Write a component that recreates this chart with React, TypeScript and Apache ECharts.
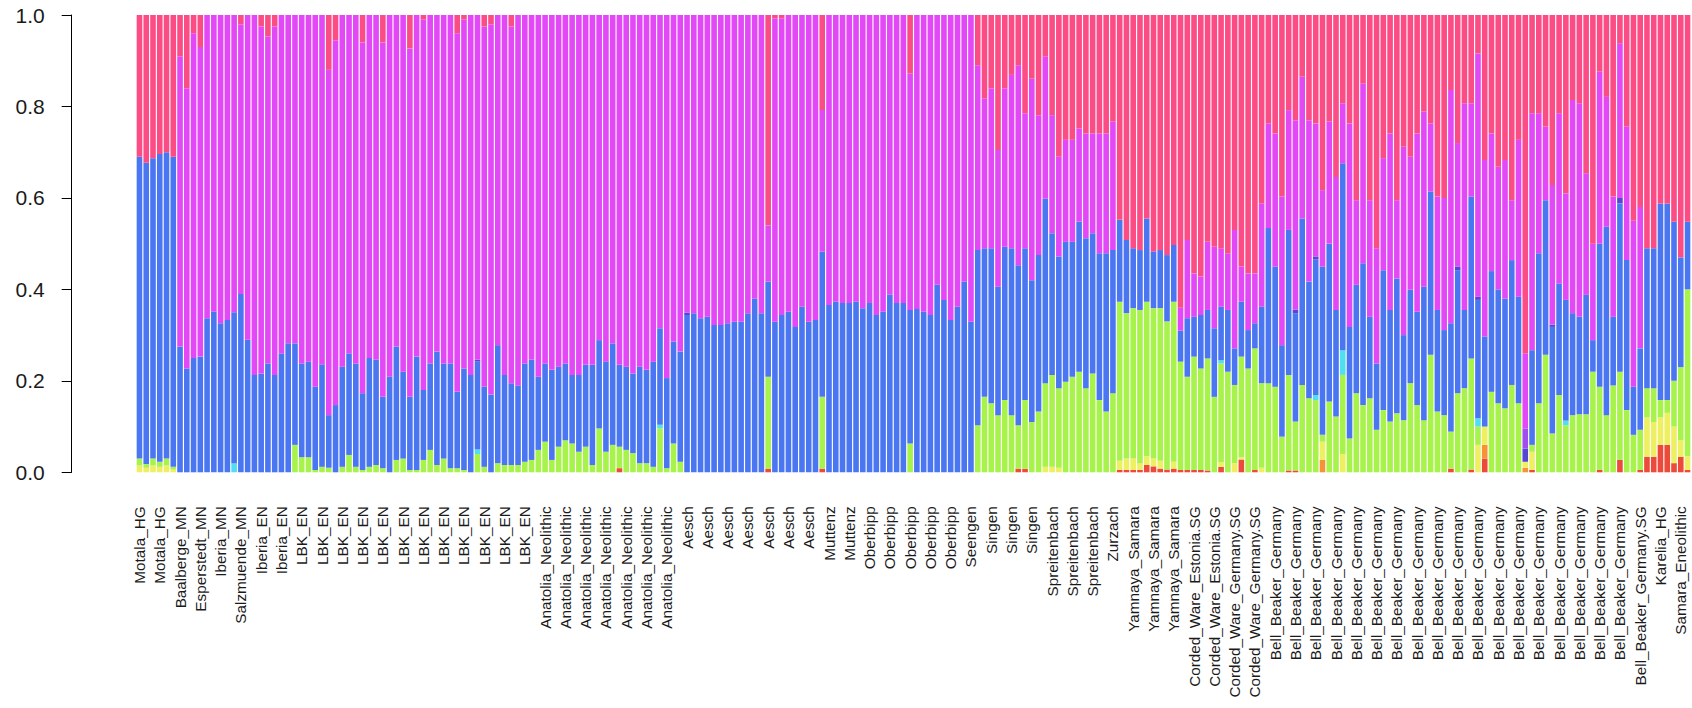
import React, { useEffect, useRef } from "react";
import * as echarts from "echarts";

// Populations (name, number of individuals) in plotting order
const groups: [string, number][] = [
  ["Motala_HG", 6], ["Baalberge_MN", 3], ["Esperstedt_MN", 3], ["Iberia_MN", 3],
  ["Salzmuende_MN", 3], ["Iberia_EN", 6], ["LBK_EN", 36], ["Anatolia_Neolithic", 21],
  ["Aesch", 21], ["Muttenz", 6], ["Oberbipp", 15], ["Seengen", 3], ["Singen", 9],
  ["Spreitenbach", 9], ["Zurzach", 3], ["Yamnaya_Samara", 9], ["Corded_Ware_Estonia.SG", 6],
  ["Corded_Ware_Germany.SG", 6], ["Bell_Beaker_Germany", 54], ["Bell_Beaker_Germany.SG", 3],
  ["Karelia_HG", 3], ["Samara_Eneolithic", 2],
];

// Cumulative ancestry (top of the lime, blue and magenta layers)
const limeTop = [
  0.03, 0.018, 0.03, 0.023, 0.03, 0.012, 0, 0, 0, 0,
  0, 0, 0, 0, 0, 0, 0, 0, 0, 0,
  0, 0, 0, 0.06, 0.033, 0.033, 0.005, 0.012, 0.01, 0,
  0.012, 0.038, 0.012, 0.005, 0.012, 0.016, 0.009, 0, 0.027, 0.03,
  0.005, 0.005, 0.027, 0.049, 0.016, 0.03, 0.009, 0.009, 0.005, 0,
  0.04, 0.012, 0, 0.02, 0.016, 0.016, 0.016, 0.023, 0.027, 0.049,
  0.067, 0.027, 0.056, 0.07, 0.063, 0.045, 0.056, 0.016, 0.096, 0.045,
  0.06, 0.056, 0.049, 0.042, 0.02, 0.02, 0.012, 0.096, 0.009, 0.063,
  0.023, 0, 0, 0, 0, 0, 0, 0, 0, 0,
  0, 0, 0, 0.209, 0, 0, 0, 0, 0, 0,
  0, 0.165, 0, 0, 0, 0, 0, 0, 0, 0,
  0, 0, 0, 0, 0.063, 0, 0, 0, 0, 0,
  0, 0, 0, 0, 0.103, 0.165, 0.151, 0.125, 0.158, 0.125,
  0.103, 0.158, 0.11, 0.133, 0.195, 0.213, 0.184, 0.198, 0.209, 0.22,
  0.184, 0.216, 0.158, 0.133, 0.173, 0.373, 0.348, 0.359, 0.355, 0.373,
  0.359, 0.359, 0.33, 0.373, 0.242, 0.209, 0.253, 0.227, 0.249, 0.165,
  0.238, 0.22, 0.191, 0.253, 0.227, 0.271, 0.195, 0.195, 0.187, 0.078,
  0.213, 0.111, 0.191, 0.162, 0.158, 0.082, 0.155, 0.122, 0.213, 0.074,
  0.173, 0.147, 0.162, 0.093, 0.136, 0.111, 0.129, 0.114, 0.195, 0.147,
  0.114, 0.257, 0.133, 0.125, 0.089, 0.173, 0.184, 0.249, 0.1, 0.1,
  0.176, 0.151, 0.14, 0.191, 0.151, 0.023, 0.06, 0.151, 0.257, 0.085,
  0.169, 0.103, 0.125, 0.127, 0.127, 0.22, 0.187, 0.125, 0.19, 0.22,
  0.136, 0.082, 0.093, 0.184, 0.184, 0.158, 0.158, 0.2, 0.23, 0.4,
];

const blueTop = [
  0.69, 0.677, 0.687, 0.696, 0.7, 0.69, 0.275, 0.227, 0.25, 0.253,
  0.337, 0.351, 0.326, 0.333, 0.35, 0.39, 0.29, 0.213, 0.216, 0.238,
  0.213, 0.26, 0.282, 0.282, 0.238, 0.242, 0.187, 0.236, 0.125, 0.147,
  0.231, 0.26, 0.238, 0.173, 0.25, 0.246, 0.165, 0.209, 0.275, 0.22,
  0.165, 0.253, 0.18, 0.238, 0.264, 0.238, 0.238, 0.176, 0.227, 0.213,
  0.242, 0.187, 0.17, 0.278, 0.213, 0.195, 0.19, 0.238, 0.246, 0.209,
  0.238, 0.224, 0.231, 0.238, 0.213, 0.213, 0.235, 0.235, 0.289, 0.242,
  0.282, 0.235, 0.231, 0.216, 0.231, 0.224, 0.242, 0.315, 0.206, 0.286,
  0.264, 0.344, 0.348, 0.337, 0.34, 0.322, 0.322, 0.326, 0.329, 0.329,
  0.348, 0.38, 0.348, 0.417, 0.329, 0.344, 0.351, 0.318, 0.362, 0.329,
  0.333, 0.483, 0.366, 0.373, 0.37, 0.37, 0.373, 0.359, 0.37, 0.344,
  0.351, 0.388, 0.37, 0.37, 0.355, 0.357, 0.351, 0.344, 0.41, 0.377,
  0.333, 0.362, 0.417, 0.329, 0.486, 0.49, 0.49, 0.406, 0.493, 0.49,
  0.453, 0.49, 0.42, 0.475, 0.599, 0.523, 0.472, 0.504, 0.504, 0.548,
  0.512, 0.523, 0.479, 0.479, 0.486, 0.552, 0.508, 0.49, 0.486, 0.555,
  0.483, 0.486, 0.475, 0.497, 0.31, 0.337, 0.34, 0.344, 0.355, 0.315,
  0.362, 0.355, 0.271, 0.373, 0.311, 0.326, 0.362, 0.534, 0.45, 0.278,
  0.53, 0.348, 0.555, 0.417, 0.465, 0.45, 0.5, 0.355, 0.676, 0.318,
  0.41, 0.457, 0.34, 0.238, 0.442, 0.355, 0.424, 0.3, 0.399, 0.351,
  0.406, 0.614, 0.355, 0.311, 0.326, 0.442, 0.355, 0.603, 0.377, 0.297,
  0.44, 0.4, 0.38, 0.464, 0.384, 0.023, 0.267, 0.479, 0.595, 0.318,
  0.413, 0.377, 0.348, 0.34, 0.388, 0.289, 0.5, 0.537, 0.34, 0.588,
  0.464, 0.187, 0.271, 0.49, 0.49, 0.588, 0.588, 0.548, 0.47, 0.548,
];

const magentaTop = [
  0.69, 0.677, 0.687, 0.696, 0.7, 0.69, 0.91, 0.84, 0.96, 0.93,
  1, 1, 1, 1, 1, 0.98, 1, 1, 0.975, 0.953,
  0.975, 1, 1, 1, 1, 1, 1, 1, 0.88, 0.945,
  1, 1, 1, 0.94, 1, 1, 0.94, 1, 1, 1,
  0.927, 1, 0.99, 1, 1, 1, 1, 0.96, 0.99, 1,
  1, 0.975, 0.98, 1, 1, 0.975, 1, 1, 1, 1,
  1, 1, 1, 1, 1, 1, 1, 1, 1, 1,
  1, 1, 1, 1, 1, 1, 1, 1, 1, 1,
  1, 1, 1, 1, 1, 1, 1, 1, 1, 1,
  1, 1, 1, 0.54, 0.993, 0.993, 1, 1, 1, 1,
  1, 0.792, 1, 1, 1, 1, 1, 1, 1, 1,
  1, 1, 1, 1, 0.872, 1, 1, 1, 1, 1,
  1, 1, 1, 1, 0.89, 0.818, 0.84, 0.705, 0.84, 0.869,
  0.89, 0.785, 0.861, 0.781, 0.909, 0.781, 0.69, 0.727, 0.727, 0.752,
  0.741, 0.741, 0.741, 0.741, 0.767, 0.552, 0.508, 0.49, 0.486, 0.555,
  0.483, 0.486, 0.475, 0.497, 0.36, 0.508, 0.435, 0.428, 0.504, 0.493,
  0.49, 0.479, 0.53, 0.45, 0.435, 0.435, 0.588, 0.763, 0.741, 0.603,
  0.792, 0.77, 0.865, 0.77, 0.763, 0.617, 0.767, 0.646, 0.807, 0.763,
  0.595, 0.85, 0.595, 0.49, 0.687, 0.741, 0.595, 0.712, 0.69, 0.741,
  0.789, 0.763, 0.603, 0.6, 0.836, 0.72, 0.807, 0.807, 0.916, 0.683,
  0.741, 0.668, 0.683, 0.595, 0.727, 0.26, 0.785, 0.785, 0.756, 0.628,
  0.785, 0.61, 0.814, 0.807, 0.654, 0.5, 0.876, 0.821, 0.603, 0.938,
  0.756, 0.55, 0.58, 0.49, 0.49, 0.588, 0.588, 0.548, 0.47, 0.548,
];

// Minor components (individual index -> share)
const redShare: Record<number, number> = {
  71: 0.009, 93: 0.008, 101: 0.008, 130: 0.008, 131: 0.008, 145: 0.005, 146: 0.005,
  147: 0.005, 148: 0.005, 149: 0.016, 150: 0.013, 151: 0.008, 152: 0.006, 153: 0.008,
  154: 0.005, 155: 0.005, 156: 0.005, 157: 0.005, 158: 0.004, 160: 0.012, 163: 0.028,
  165: 0.005, 170: 0.004, 171: 0.004, 194: 0.008, 197: 0.006, 199: 0.03, 206: 0.005,
  216: 0.005, 219: 0.027, 222: 0.005, 223: 0.034, 224: 0.034, 225: 0.06, 226: 0.06,
  227: 0.02, 228: 0.034, 229: 0.005,
};
const orangeShare: Record<number, number> = { 175: 0.027, 199: 0.03, 205: 0.01 };
const yellowShare: Record<number, number> = {
  0: 0.015, 1: 0.01, 2: 0.015, 3: 0.012, 4: 0.015, 5: 0.006, 134: 0.012, 135: 0.012,
  136: 0.01, 145: 0.02, 146: 0.025, 147: 0.025, 148: 0.015, 149: 0.019, 150: 0.017,
  151: 0.017, 153: 0.015, 160: 0.01, 162: 0.02, 163: 0.005, 166: 0.01, 175: 0.04,
  178: 0.04, 198: 0.06, 199: 0.04, 205: 0.013, 206: 0.04, 223: 0.086, 224: 0.076,
  225: 0.06, 226: 0.07, 227: 0.08, 228: 0.036, 229: 0.03,
};
const cyanShare: Record<number, number> = {
  14: 0.02, 50: 0.01, 77: 0.008, 160: 0.007, 174: 0.011, 178: 0.054, 198: 0.018, 211: 0.01,
};
const indigoShare: Record<number, number> = {
  50: 0.004, 81: 0.005, 171: 0.008, 174: 0.007, 195: 0.008, 198: 0.007, 205: 0.029,
  209: 0.005, 219: 0.012,
};
const purpleShare: Record<number, number> = { 205: 0.044 };

const colors = {
  red: "#ec4a3a", orange: "#f5923a", yellow: "#eef062", lime: "#a8f24c", cyan: "#50dff0",
  blue: "#4a76f2", indigo: "#5646d6", purple: "#a24eee", magenta: "#e348f6", pink: "#fc4c86",
};

const FONT = "'Liberation Sans', Arial, Helvetica, sans-serif";

export default function App() {
  const ref = useRef<HTMLDivElement>(null);
  useEffect(() => {
    if (!ref.current) return;
    const chart = echarts.init(ref.current, undefined, { renderer: "svg" });
    const categories: string[] = [];
    groups.forEach(([name, n]) => { for (let k = 0; k < n; k++) categories.push(name); });
    const pick = (rec: Record<number, number>) => categories.map((_, i) => rec[i] ?? 0);
    const r3 = (v: number) => Math.max(0, Math.round(v * 10000) / 10000);
    const red = pick(redShare), orange = pick(orangeShare), yellow = pick(yellowShare);
    const cyan = pick(cyanShare), indigo = pick(indigoShare), purple = pick(purpleShare);
    const lime = limeTop.map((t, i) => r3(t - red[i] - orange[i] - yellow[i]));
    const blue = blueTop.map((t, i) => r3(t - limeTop[i] - cyan[i]));
    const magenta = magentaTop.map((t, i) => r3(t - blueTop[i] - indigo[i] - purple[i]));
    const pink = magentaTop.map((t) => r3(1 - t));
    const layers: [string, string, number[]][] = [
      ["K1", colors.red, red], ["K2", colors.orange, orange], ["K3", colors.yellow, yellow],
      ["K4", colors.lime, lime], ["K5", colors.cyan, cyan], ["K6", colors.blue, blue],
      ["K7", colors.indigo, indigo], ["K8", colors.purple, purple],
      ["K9", colors.magenta, magenta], ["K10", colors.pink, pink],
    ];
    chart.setOption({
      animation: false,
      backgroundColor: "#ffffff",
      grid: { left: 136.1, top: 15, width: 1554.8, height: 457.3, containLabel: false },
      xAxis: {
        type: "category",
        data: categories,
        axisLine: { show: false },
        axisTick: { show: false },
        axisLabel: {
          interval: 2, rotate: 90, fontSize: 15.3, margin: 34, color: "#1a1a1a", fontFamily: FONT,
        },
      },
      yAxis: {
        type: "value", min: 0, max: 1, interval: 0.2, offset: 64.4,
        axisLine: { show: true, lineStyle: { color: "#000", width: 1 } },
        axisTick: { show: true, length: 10, lineStyle: { color: "#000", width: 1 } },
        splitLine: { show: false },
        axisLabel: {
          formatter: (v: number) => v.toFixed(1), fontSize: 21, margin: 27, color: "#1a1a1a", fontFamily: FONT,
        },
      },
      series: layers.map(([name, color, data]) => ({
        name, type: "bar", stack: "q", data, barCategoryGap: "17%", silent: true,
        itemStyle: { color }, emphasis: { disabled: true },
      })),
    });
    return () => chart.dispose();
  }, []);
  return <div ref={ref} style={{ position: "fixed", left: 0, top: 0, width: 1692, height: 708 }} />;
}
